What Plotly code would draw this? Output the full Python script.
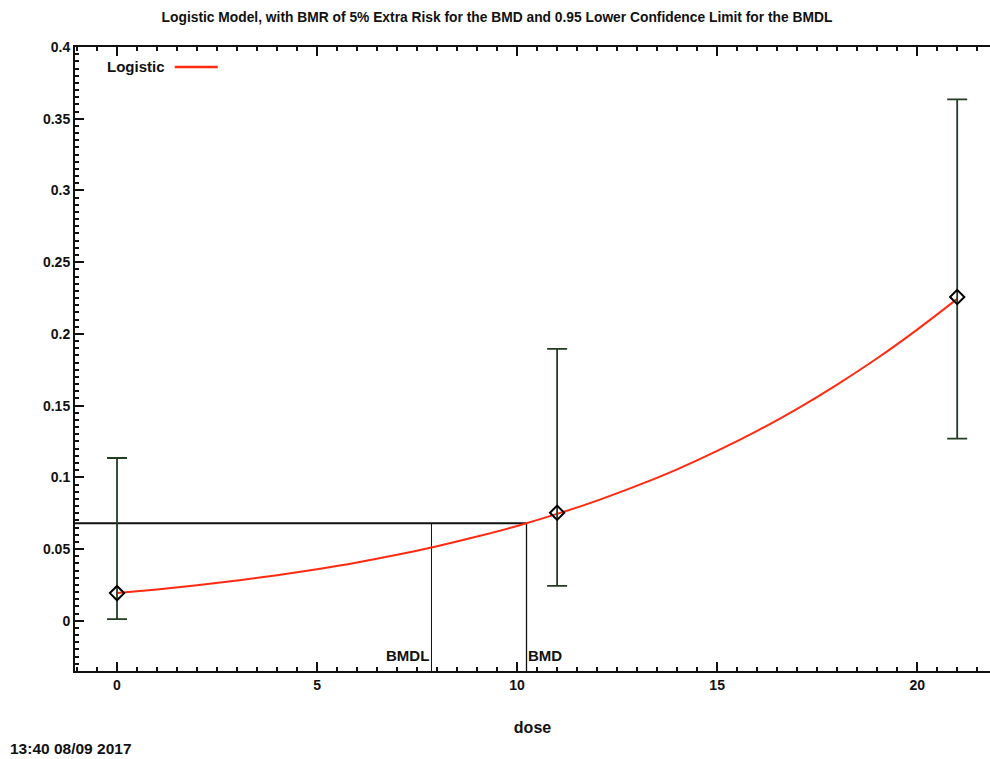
import plotly.graph_objects as go

# Observed data (dose, response fraction, confidence limits)
dose = [0, 11, 21]
resp = [0.0193, 0.0753, 0.2257]
upper = [0.1135, 0.1895, 0.3635]
lower = [0.0012, 0.0244, 0.1270]

# Fitted logistic curve
curve_dose = list(range(0, 22))
curve_resp = [0.0193, 0.0219, 0.0248, 0.0281, 0.0318, 0.0360, 0.0407, 0.0460,
              0.0520, 0.0587, 0.0661, 0.0745, 0.0838, 0.0942, 0.1056, 0.1184,
              0.1324, 0.1478, 0.1647, 0.1830, 0.2030, 0.2244]

BMD = 10.235
BMDL = 7.86
BMR_LEVEL = 0.068
X_RANGE = [-1.05, 21.82]
Y_RANGE = [-0.035, 0.4]

x_ticks = [0, 5, 10, 15, 20]
y_ticks = [0, 0.05, 0.1, 0.15, 0.2, 0.25, 0.3, 0.35, 0.4]
y_tick_text = ["0", "0.05", "0.1", "0.15", "0.2", "0.25", "0.3", "0.35", "0.4"]

TITLE = "Logistic Model, with BMR of 5% Extra Risk for the BMD and 0.95 Lower Confidence Limit for the BMDL"
FONT = "Liberation Sans, Arial, sans-serif"
INK = "#111111"

fig = go.Figure()

# BMR horizontal line and BMD / BMDL verticals
fig.add_trace(go.Scatter(x=[X_RANGE[0], BMD], y=[BMR_LEVEL, BMR_LEVEL], mode="lines",
                         line=dict(color=INK, width=2), hoverinfo="skip", showlegend=False))
fig.add_trace(go.Scatter(x=[BMDL, BMDL], y=[Y_RANGE[0], BMR_LEVEL], mode="lines",
                         line=dict(color=INK, width=1), hoverinfo="skip", showlegend=False))
fig.add_trace(go.Scatter(x=[BMD, BMD], y=[Y_RANGE[0], BMR_LEVEL], mode="lines",
                         line=dict(color=INK, width=1.3), hoverinfo="skip", showlegend=False))

# Fitted curve
fig.add_trace(go.Scatter(x=curve_dose, y=curve_resp, mode="lines", name="Logistic",
                         line=dict(color="#ff2a10", width=2, shape="spline"), showlegend=False))

# Data with error bars
fig.add_trace(go.Scatter(
    x=dose, y=resp, mode="markers", showlegend=False,
    marker=dict(symbol="diamond-open", size=11, color="#000000", line=dict(width=2, color="#000000")),
    error_y=dict(type="data", symmetric=False,
                 array=[u - r for u, r in zip(upper, resp)],
                 arrayminus=[r - l for r, l in zip(resp, lower)],
                 color="#223d22", thickness=1.8, width=10),
))

# BMDL / BMD labels
fig.add_annotation(x=BMDL, y=Y_RANGE[0], xref="x", yref="y", text="BMDL", showarrow=False,
                   xanchor="right", yanchor="bottom", yshift=5, xshift=0,
                   font=dict(family=FONT, size=15, color=INK, weight="bold"))
fig.add_annotation(x=BMD, y=Y_RANGE[0], xref="x", yref="y", text="BMD", showarrow=False,
                   xanchor="left", yanchor="bottom", yshift=5, xshift=-1,
                   font=dict(family=FONT, size=15, color=INK, weight="bold"))

# Legend (text followed by line sample)
fig.add_annotation(x=0.033, y=0.968, xref="paper", yref="paper", text="Logistic", showarrow=False,
                   xanchor="left", yanchor="middle",
                   font=dict(family=FONT, size=15, color=INK, weight="bold"))
fig.add_shape(type="line", xref="paper", yref="paper", x0=0.109, x1=0.156, y0=0.968, y1=0.968,
              line=dict(color="#ff2a10", width=2.5))

# Timestamp
fig.add_annotation(x=-0.0732, y=-0.1234, xref="paper", yref="paper", text="13:40 08/09 2017",
                   showarrow=False, xanchor="left", yanchor="middle",
                   font=dict(family=FONT, size=15.5, color=INK, weight="bold"))

fig.update_layout(
    width=990, height=759,
    margin=dict(l=75, r=0, t=47, b=88, autoexpand=False),
    paper_bgcolor="white", plot_bgcolor="white",
    title=dict(text=TITLE, x=0.502, xanchor="center", y=0.9776, yanchor="middle",
               font=dict(family=FONT, size=13.8, color=INK, weight="bold")),
    xaxis=dict(range=X_RANGE, tickvals=x_ticks, ticks="inside", ticklen=9, tickwidth=2,
               tickcolor=INK, showline=True, linecolor=INK, linewidth=2,
               mirror="ticks", showgrid=False, zeroline=False, automargin=False,
               minor=dict(dtick=0.5, tick0=0, ticks="inside", ticklen=4, tickwidth=2, tickcolor=INK),
               tickfont=dict(family=FONT, size=14, color=INK, weight="bold"),
               title=dict(text="dose", standoff=30,
                          font=dict(family=FONT, size=16, color=INK, weight="bold"))),
    yaxis=dict(range=Y_RANGE, tickvals=y_ticks, ticktext=y_tick_text, ticks="inside", ticklen=9,
               tickwidth=2, tickcolor=INK, showline=True, linecolor=INK, linewidth=2,
               mirror=False, showgrid=False, zeroline=False, automargin=False,
               minor=dict(dtick=0.005, tick0=0, ticks="inside", ticklen=4, tickwidth=2, tickcolor=INK),
               tickfont=dict(family=FONT, size=14, color=INK, weight="bold")),
)

fig.write_html("out.html", config={"displayModeBar": False},
               post_script="document.body.style.margin='0';document.body.style.overflow='hidden';")
